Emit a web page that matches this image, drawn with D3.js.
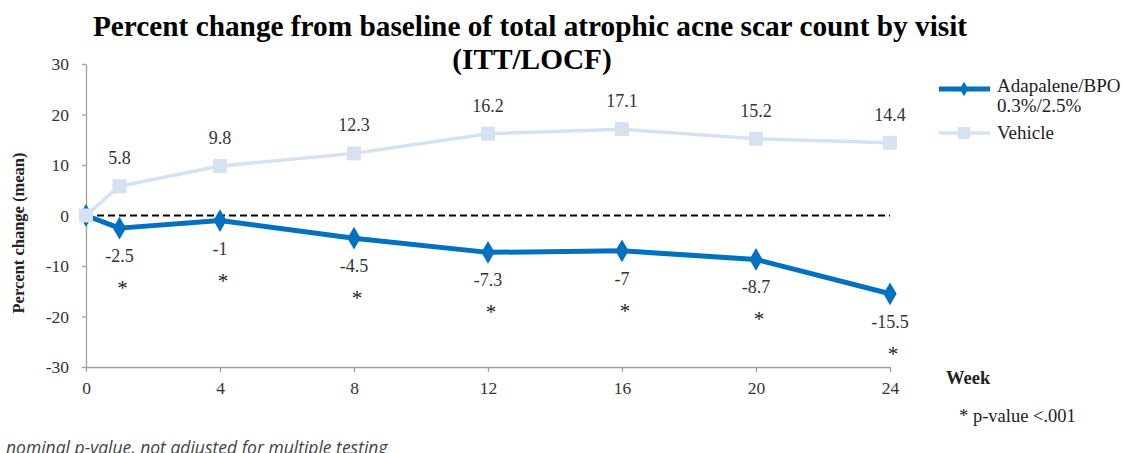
<!DOCTYPE html>
<html><head><meta charset="utf-8">
<script src="https://cdn.jsdelivr.net/npm/d3@7"></script>
<style>
html,body{margin:0;padding:0;background:#fff;overflow:hidden}
svg{display:block}
</style></head>
<body>
<svg id="chart" width="1123" height="453"></svg>
<script>
const weeks = [0, 1, 4, 8, 12, 16, 20, 24];
const adapalene = [0, -2.5, -1, -4.5, -7.3, -7, -8.7, -15.5];
const vehicle = [0, 5.8, 9.8, 12.3, 16.2, 17.1, 15.2, 14.4];
const significant = [false, true, true, true, true, true, true, true];
const xTicks = [0, 4, 8, 12, 16, 20, 24];
const yTicks = [-30, -20, -10, 0, 10, 20, 30];
const seriesNames = ["Adapalene/BPO", "0.3%/2.5%", "Vehicle"];

const svg = d3.select("#chart");
const serif = "'Liberation Serif','Times New Roman',serif";
const x = d3.scaleLinear().domain([0, 24]).range([86, 890]);
const y = d3.scaleLinear().domain([-30, 30]).range([367, 64]);
const axisColor = "#a0a0a0";
const blue = "#0070c0", light = "#d6e2f0";

// title
svg.append("text").attr("x", 530).attr("y", 36).attr("text-anchor", "middle")
  .attr("font-family", serif).attr("font-weight", "bold").attr("font-size", 29.3).attr("fill", "#000")
  .text("Percent change from baseline of total atrophic acne scar count by visit");
svg.append("text").attr("x", 532).attr("y", 69).attr("text-anchor", "middle")
  .attr("font-family", serif).attr("font-weight", "bold").attr("font-size", 29.3).attr("fill", "#000")
  .text("(ITT/LOCF)");

// axes
const yAxis = svg.append("g").attr("transform", "translate(86,0)")
  .call(d3.axisLeft(y).tickValues(yTicks).tickSize(4).tickSizeOuter(0).tickPadding(13).tickFormat(d => String(d)));
const xAxis = svg.append("g").attr("transform", "translate(0,367)")
  .call(d3.axisBottom(x).tickValues(xTicks).tickSize(5).tickSizeOuter(0).tickPadding(10).tickFormat(d => String(d)));
[yAxis, xAxis].forEach(g => {
  g.selectAll("path,line").attr("stroke", axisColor).attr("stroke-width", 1.3);
  g.selectAll("text").attr("font-family", serif).attr("font-size", 17.5).attr("fill", "#333");
});

svg.append("text").attr("transform", "translate(24,233) rotate(-90)").attr("text-anchor", "middle")
  .attr("font-family", serif).attr("font-weight", "bold").attr("font-size", 16.5).attr("fill", "#222")
  .text("Percent change (mean)");

// zero dashed line
svg.append("line").attr("x1", x(0)).attr("x2", x(24)).attr("y1", y(0)).attr("y2", y(0))
  .attr("stroke", "#000").attr("stroke-width", 2.2).attr("stroke-dasharray", "7,4");

const line = d3.line().x((d, i) => x(weeks[i])).y(d => y(d));

// adapalene series
svg.append("path").datum(adapalene).attr("d", line).attr("fill", "none")
  .attr("stroke", blue).attr("stroke-width", 5).attr("stroke-linejoin", "round");
const diamond = d3.symbol().type(d3.symbolDiamond).size(150);
svg.selectAll(".dia").data(adapalene).enter().append("path")
  .attr("d", diamond).attr("transform", (d, i) => `translate(${x(weeks[i])},${y(d)})`).attr("fill", blue);

// vehicle series
svg.append("path").datum(vehicle).attr("d", line).attr("fill", "none")
  .attr("stroke", light).attr("stroke-width", 3.5);
const sq = 14;
svg.selectAll(".sq").data(vehicle).enter().append("rect")
  .attr("x", (d, i) => x(weeks[i]) - sq / 2).attr("y", d => y(d) - sq / 2)
  .attr("width", sq).attr("height", sq).attr("fill", light);

// value labels
const fmt = v => String(v);
svg.selectAll(".vl").data(vehicle).enter().filter((d, i) => i > 0).append("text")
  .attr("x", (d, i) => x(weeks[i + 1])).attr("y", d => y(d) - 22)
  .attr("text-anchor", "middle").attr("font-family", serif).attr("font-size", 18).attr("fill", "#333")
  .text(d => fmt(d));
svg.selectAll(".al").data(adapalene).enter().filter((d, i) => i > 0).append("text")
  .attr("x", (d, i) => x(weeks[i + 1])).attr("y", d => y(d) + 34)
  .attr("text-anchor", "middle").attr("font-family", serif).attr("font-size", 18).attr("fill", "#333")
  .text(d => fmt(d));
svg.selectAll(".star").data(adapalene).enter().filter((d, i) => significant[i]).append("text")
  .attr("x", (d, i) => x(weeks[i + 1]) + 3).attr("y", d => y(d) + 67)
  .attr("text-anchor", "middle").attr("font-family", serif).attr("font-size", 21).attr("fill", "#222")
  .text("*");

// legend
svg.append("line").attr("x1", 939).attr("x2", 990).attr("y1", 89).attr("y2", 89)
  .attr("stroke", blue).attr("stroke-width", 5);
svg.append("path").attr("d", d3.symbol().type(d3.symbolDiamond).size(60)).attr("transform", "translate(964,89)").attr("fill", blue);
svg.append("line").attr("x1", 939).attr("x2", 990).attr("y1", 133).attr("y2", 133)
  .attr("stroke", light).attr("stroke-width", 3.5);
svg.append("rect").attr("x", 958).attr("y", 127).attr("width", 12).attr("height", 12).attr("fill", light);
const lg = [[997, 92, seriesNames[0]], [997, 112, seriesNames[1]], [997, 139, seriesNames[2]]];
lg.forEach(([lx, ly, t]) => svg.append("text").attr("x", lx).attr("y", ly)
  .attr("font-family", serif).attr("font-size", 19).attr("fill", "#222").text(t));

// extra notes
svg.append("text").attr("x", 946).attr("y", 384).attr("font-family", serif).attr("font-weight", "bold")
  .attr("font-size", 18.5).attr("fill", "#222").text("Week");
svg.append("text").attr("x", 959).attr("y", 422).attr("font-family", serif)
  .attr("font-size", 18.5).attr("fill", "#222").text("* p-value <.001");
svg.append("text").attr("x", 6).attr("y", 454).attr("font-family", "'Open Sans',sans-serif").attr("font-style", "italic")
  .attr("font-size", 17.5).attr("fill", "#444").text("nominal p-value, not adjusted for multiple testing");
</script>
</body></html>
